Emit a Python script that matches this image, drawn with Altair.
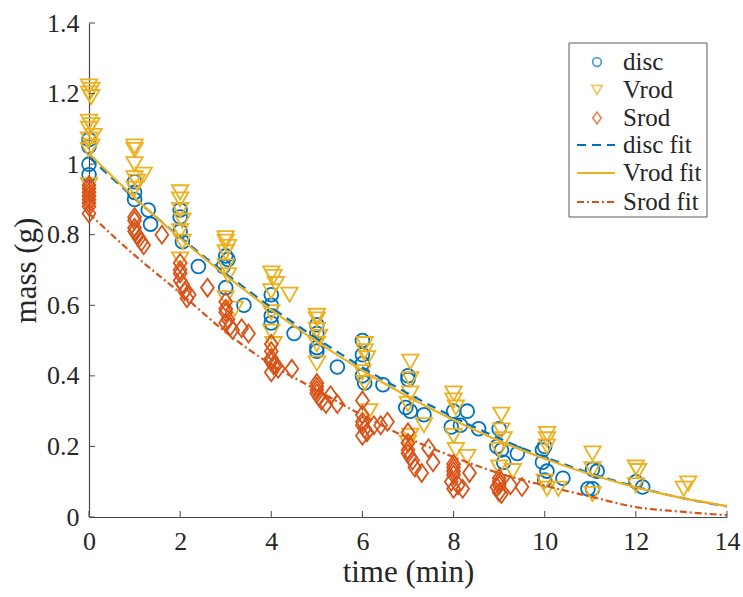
import altair as alt
import pandas as pd

# ---------------- data ----------------
disc_t = [0, 0, 0, 0,
          1.0, 1.0, 1.0, 1.3, 1.35,
          2.0, 2.0, 2.0, 2.05, 2.4,
          3.0, 3.05, 2.95, 3.0, 3.4,
          4.0, 4.0, 4.0, 4.0, 4.5,
          5.0, 5.0, 5.0, 5.0, 5.45,
          6.0, 6.0, 6.0, 6.0, 6.05, 6.45,
          7.0, 7.0, 6.95, 7.05, 7.35,
          8.0, 7.95, 8.15, 8.3, 8.55,
          9.0, 8.95, 9.05, 9.1, 9.4,
          10.0, 9.95, 9.95, 10.05, 10.0, 10.4,
          11.05, 11.15, 10.95, 11.05,
          12.0, 12.15]
disc_m = [1.07, 1.05, 1.00, 0.97,
          0.95, 0.92, 0.90, 0.87, 0.83,
          0.87, 0.85, 0.81, 0.78, 0.71,
          0.74, 0.73, 0.71, 0.65, 0.60,
          0.63, 0.60, 0.57, 0.55, 0.52,
          0.545, 0.52, 0.48, 0.47, 0.425,
          0.50, 0.46, 0.435, 0.40, 0.38, 0.375,
          0.40, 0.39, 0.31, 0.30, 0.29,
          0.30, 0.255, 0.26, 0.30, 0.25,
          0.25, 0.20, 0.19, 0.155, 0.18,
          0.20, 0.19, 0.155, 0.13, 0.105, 0.11,
          0.135, 0.13, 0.08, 0.08,
          0.10, 0.085]

vrod_t = [0, 0.05, 0, 0.05, 0, 0.05, 0, 0.1, 0, 0.05, 0, 0,
          1.0, 1.0, 1.0, 1.0, 1.05, 1.0, 1.2,
          2.0, 2.0, 2.0, 2.05, 2.0, 2.05, 2.0,
          3.0, 3.0, 3.05, 3.0, 3.0, 3.05, 3.0, 3.2,
          4.0, 4.05, 4.1, 4.0, 4.4, 4.0, 4.0, 4.05,
          5.0, 5.0, 5.0, 5.05, 5.0, 5.0,
          6.05, 6.05, 6.1, 6.0, 6.05, 6.15,
          7.05, 7.05, 7.05, 7.0, 7.05, 7.0, 7.35,
          8.0, 8.0, 8.05, 8.0, 8.05, 8.3,
          9.05, 9.05, 9.1, 9.0, 9.0, 9.3,
          10.05, 10.05, 10.05, 10.0, 10.05, 10.3,
          11.05, 11.05, 11.05,
          12.0, 12.05, 12.0,
          13.15, 13.05]
vrod_m = [1.22, 1.21, 1.20, 1.19, 1.12, 1.11, 1.10, 1.08, 1.07, 1.05, 1.04, 0.94,
          1.05, 1.04, 1.00, 0.96, 0.95, 0.93, 0.97,
          0.92, 0.90, 0.87, 0.84, 0.81, 0.78, 0.73,
          0.79, 0.78, 0.765, 0.75, 0.71, 0.685, 0.62, 0.59,
          0.69, 0.68, 0.66, 0.64, 0.63, 0.58, 0.525, 0.49,
          0.57, 0.56, 0.53, 0.51, 0.49, 0.435,
          0.49, 0.47, 0.45, 0.41, 0.38, 0.30,
          0.44, 0.39, 0.35, 0.32, 0.23, 0.21, 0.26,
          0.35, 0.33, 0.31, 0.23, 0.19, 0.17,
          0.29, 0.245, 0.22, 0.19, 0.14, 0.13,
          0.235, 0.22, 0.20, 0.10, 0.08, 0.08,
          0.18, 0.135, 0.065,
          0.14, 0.13, 0.09,
          0.095, 0.08]

srod_t = [0, 0, 0, 0, 0, 0, 0, 0,
          1.0, 1.0, 1.0, 1.0, 1.05, 1.1, 1.15, 1.2, 1.6,
          2.0, 2.0, 2.0, 2.0, 2.05, 2.1, 2.15, 2.2, 2.6,
          3.0, 3.0, 3.0, 3.05, 3.0, 3.1, 3.15, 3.35, 3.5,
          4.0, 4.0, 4.0, 4.0, 4.05, 4.1, 4.15, 4.0, 4.45,
          5.0, 5.0, 5.0, 5.0, 5.05, 5.1, 5.2, 5.3, 5.45,
          6.0, 6.0, 6.0, 6.0, 6.05, 6.1, 6.0, 6.25, 6.4, 6.55,
          7.0, 7.0, 7.0, 7.0, 7.05, 7.1, 7.15, 7.3, 7.45, 7.55,
          8.0, 8.0, 8.0, 8.0, 7.95, 8.1, 8.2, 8.35, 8.0,
          9.0, 9.0, 9.0, 8.95, 9.0, 9.05, 9.25, 9.5]
srod_m = [0.94, 0.93, 0.92, 0.91, 0.90, 0.89, 0.88, 0.86,
          0.85, 0.84, 0.82, 0.81, 0.80, 0.79, 0.78, 0.77, 0.80,
          0.72, 0.70, 0.69, 0.67, 0.66, 0.64, 0.62, 0.63, 0.65,
          0.61, 0.59, 0.58, 0.56, 0.55, 0.54, 0.53, 0.535, 0.52,
          0.49, 0.47, 0.45, 0.44, 0.43, 0.43, 0.42, 0.41, 0.42,
          0.38, 0.37, 0.36, 0.35, 0.34, 0.33, 0.32, 0.345, 0.32,
          0.33, 0.29, 0.27, 0.26, 0.25, 0.24, 0.23, 0.26, 0.26, 0.27,
          0.24, 0.21, 0.19, 0.18, 0.17, 0.16, 0.14, 0.125, 0.195, 0.155,
          0.15, 0.14, 0.13, 0.12, 0.10, 0.09, 0.08, 0.125, 0.08,
          0.11, 0.10, 0.09, 0.085, 0.07, 0.065, 0.09, 0.085]

fit_t = [0, 1, 2, 3, 4, 5, 6, 7, 8, 9, 10, 11, 12, 13, 14]
disc_fit = [1.02, 0.903, 0.793, 0.690, 0.594, 0.506, 0.424, 0.350, 0.283,
            0.223, 0.170, 0.124, 0.086, 0.054, 0.030]
vrod_fit = [1.03, 0.905, 0.790, 0.685, 0.587, 0.497, 0.415, 0.341, 0.275,
            0.216, 0.165, 0.121, 0.084, 0.054, 0.031]
srod_fit = [0.86, 0.742, 0.635, 0.524, 0.432, 0.360, 0.288, 0.224, 0.170,
            0.124, 0.089, 0.058, 0.028, 0.015, 0.005]

x_ticks = [0, 2, 4, 6, 8, 10, 12, 14]
y_ticks = [0, 0.2, 0.4, 0.6, 0.8, 1.0, 1.2, 1.4]

legend_labels = ["disc", "Vrod", "Srod", "disc fit", "Vrod fit", "Srod fit"]

# ---------------- style ----------------
W, H = 638, 494
FONT = "Liberation Serif"
TXT = "#262626"
AX = "#4a4a4a"
BLUE, YELLOW, RED = "#0072BD", "#EDB120", "#D95319"
DIAMOND = "M-0.72,0L0,-1L0.72,0L0,1Z"

x_scale = alt.Scale(domain=[0, 14], nice=False, zero=False)
y_scale = alt.Scale(domain=[0, 1.4], nice=False, zero=False)

x_axis = alt.Axis(values=x_ticks, ticks=False, grid=False, domainColor=AX,
                  domainWidth=1.2, labelFont=FONT, labelFontSize=26,
                  labelColor=TXT, labelPadding=11, labelFlush=False,
                  title="time (min)", titleFont=FONT, titleFontSize=31,
                  titleFontWeight="normal", titleColor=TXT, titlePadding=3)
y_axis = alt.Axis(values=y_ticks, ticks=False, grid=False, domainColor=AX,
                  domainWidth=1.2, labelFont=FONT, labelFontSize=26,
                  labelColor=TXT, labelPadding=10, labelFlush=False,
                  format="~g",
                  title="mass (g)", titleFont=FONT, titleFontSize=31,
                  titleFontWeight="normal", titleColor=TXT, titlePadding=4)


def X():
    return alt.X("t:Q", scale=x_scale, axis=x_axis)


def Y():
    return alt.Y("m:Q", scale=y_scale, axis=y_axis)


def pts(t, m, shape, color, size):
    df = pd.DataFrame({"t": t, "m": m})
    return alt.Chart(df).mark_point(shape=shape, filled=False, color=color,
                                    size=size, strokeWidth=1.8,
                                    opacity=1).encode(x=X(), y=Y())


def fitline(vals, color, dash):
    df = pd.DataFrame({"t": fit_t, "m": vals})
    kw = dict(color=color, strokeWidth=2.2, interpolate="monotone")
    if dash:
        kw["strokeDash"] = dash
    return alt.Chart(df).mark_line(**kw).encode(x=X(), y=Y())


layers = [
    pts(disc_t, disc_m, "circle", BLUE, 190),
    pts(vrod_t, vrod_m, "triangle-down", YELLOW, 270),
    pts(srod_t, srod_m, DIAMOND, RED, 320),
    fitline(disc_fit, BLUE, [9, 6]),
    fitline(vrod_fit, YELLOW, None),
    fitline(srod_fit, RED, [7, 3, 2, 3]),
]

# inward tick marks
xt = pd.DataFrame({"t": x_ticks})
layers.append(alt.Chart(xt).mark_rule(color=AX, strokeWidth=1).encode(
    x=X(), y=alt.value(H), y2=alt.value(H - 6)))
yt = pd.DataFrame({"m": y_ticks})
layers.append(alt.Chart(yt).mark_rule(color=AX, strokeWidth=1).encode(
    y=Y(), x=alt.value(0), x2=alt.value(6)))

# legend (drawn manually, box in the upper right)
one = pd.DataFrame({"k": [0]})
LX0, LX1, LY0, LY1 = 480, 618, 20, 194
layers.append(alt.Chart(one).mark_rect(fill="white", stroke="#5a5a5a",
                                       strokeWidth=1).encode(
    x=alt.value(LX0), x2=alt.value(LX1), y=alt.value(LY0), y2=alt.value(LY1)))
row_y = [39, 67, 95, 122, 150, 179]
sym_x = 508
layers.append(alt.Chart(one).mark_point(shape="circle", filled=False, color=BLUE,
                                        size=75, strokeWidth=1.7).encode(
    x=alt.value(sym_x), y=alt.value(row_y[0])))
layers.append(alt.Chart(one).mark_point(shape="triangle-down", filled=False,
                                        color=YELLOW, size=110,
                                        strokeWidth=1.7).encode(
    x=alt.value(sym_x), y=alt.value(row_y[1])))
layers.append(alt.Chart(one).mark_point(shape=DIAMOND, filled=False, color=RED,
                                        size=140, strokeWidth=1.7).encode(
    x=alt.value(sym_x), y=alt.value(row_y[2])))
for yy, col, dash in [(row_y[3], BLUE, [9, 6]), (row_y[4], YELLOW, None),
                      (row_y[5], RED, [7, 3, 2, 3])]:
    kw = dict(color=col, strokeWidth=2.2)
    if dash:
        kw["strokeDash"] = dash
    layers.append(alt.Chart(one).mark_rule(**kw).encode(
        x=alt.value(488), x2=alt.value(526), y=alt.value(yy)))
for lab, yy in zip(legend_labels, row_y):
    layers.append(alt.Chart(one).mark_text(align="left", baseline="middle",
                                           font=FONT, fontSize=25,
                                           color=TXT).encode(
        x=alt.value(534), y=alt.value(yy), text=alt.value(lab)))

chart = alt.layer(*layers).properties(
    width=W, height=H,
    autosize=alt.AutoSizeParams(type="none"),
    padding={"left": 89, "top": 23, "right": 16, "bottom": 80},
    background="white",
).configure(font=FONT).configure_view(stroke="transparent")

chart.save("out.html", embed_options={"renderer": "svg", "actions": False})
